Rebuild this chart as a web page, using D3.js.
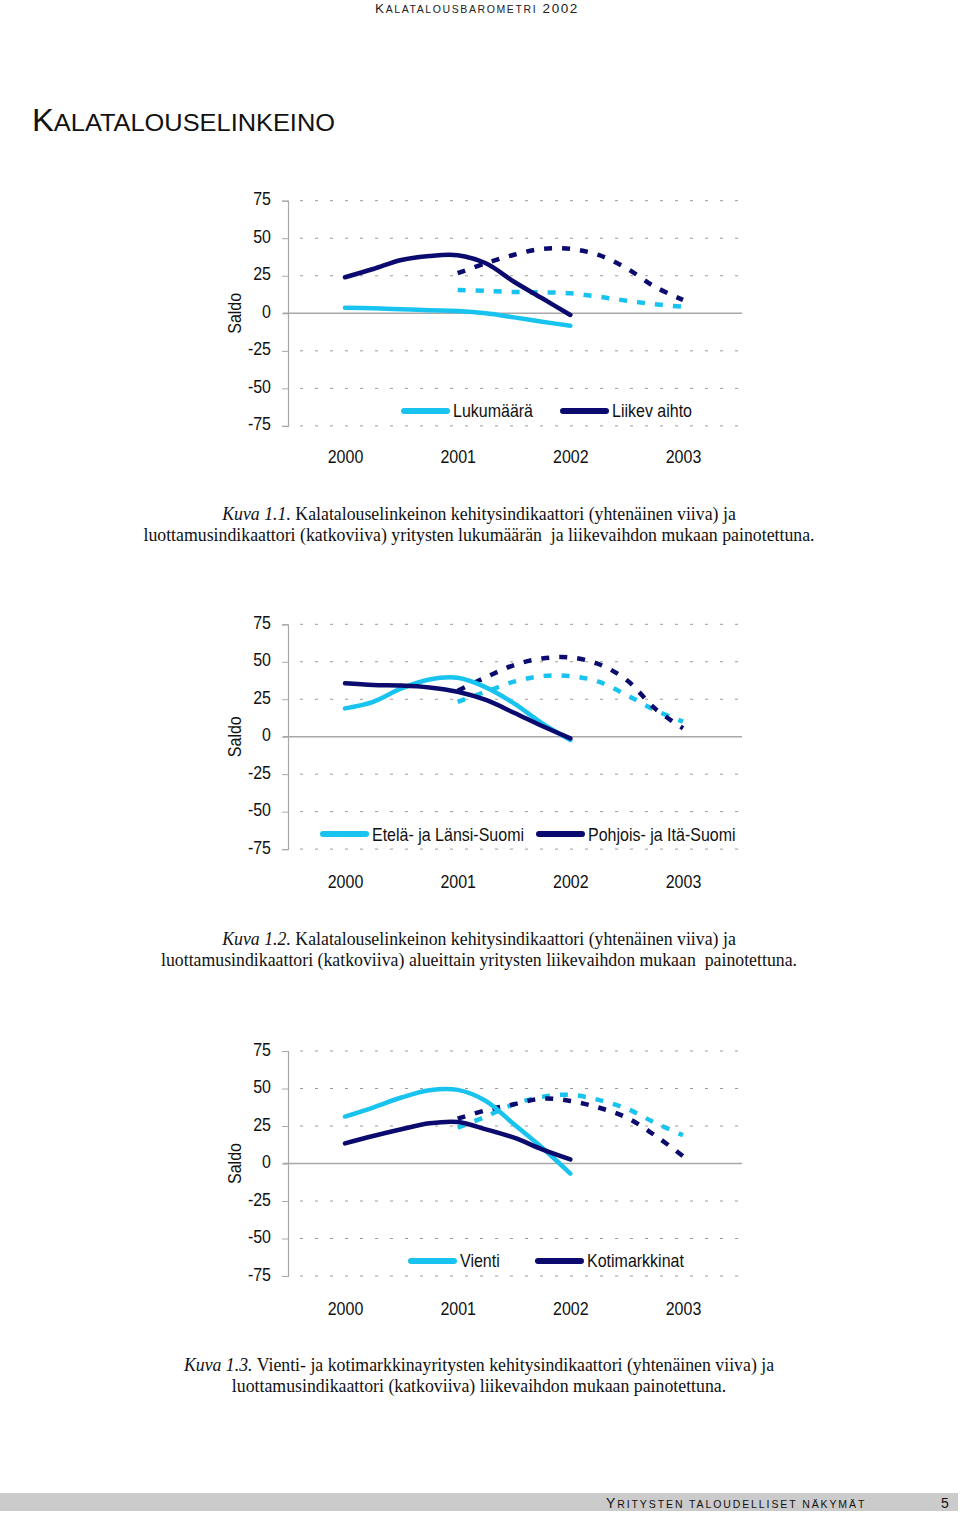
<!DOCTYPE html>
<html><head><meta charset="utf-8">
<script src="https://cdn.jsdelivr.net/npm/d3@7/dist/d3.min.js"></script>
<style>
html,body{margin:0;padding:0;background:#fff;}
svg{display:block;}
</style></head>
<body>
<svg id="page" width="960" height="1514"></svg>
<script>
// ---------- DATA ----------
const yearLabels = ["2000", "2001", "2002", "2003"];
const yTicks = [75, 50, 25, 0, -25, -50, -75];
const solidTimes = [2000, 2000.25, 2000.5, 2000.75, 2001, 2001.25, 2001.5, 2001.75, 2002];
const dashedTimes = [2001, 2001.25, 2001.5, 2001.75, 2002, 2002.25, 2002.5, 2002.75, 2003];

// Chart 1
const c1Names = ["Lukumäärä", "Liikev aihto"];
const c1LightSolid = [3.7, 3.3, 2.7, 2.0, 1.5, 0.0, -2.7, -5.6, -8.3];
const c1DarkSolid = [24, 29.5, 35.5, 38.2, 38.7, 33.3, 21, 10, -1.1];
const c1LightDashed = [15.5, 14.9, 14.2, 14.0, 13.3, 11.1, 8.4, 6.0, 4.4];
const c1DarkDashed = [26.7, 33.3, 39, 42.9, 42.9, 38.9, 30, 17.7, 8.9];

// Chart 2
const c2Names = ["Etelä- ja Länsi-Suomi", "Pohjois- ja Itä-Suomi"];
const c2LightSolid = [18.9, 23.3, 32.2, 38.2, 39.3, 32.9, 22.2, 8.9, -2.2];
const c2DarkSolid = [35.6, 34.5, 34.2, 32.9, 30, 24.5, 16, 7.1, -1.1];
const c2LightDashed = [23.3, 30, 36.7, 40.5, 40.5, 36.7, 27.8, 17.8, 10];
const c2DarkDashed = [30.7, 39.6, 47.8, 52.2, 52.9, 48.5, 37.8, 18.9, 5.6];

// Chart 3
const c3Names = ["Vienti", "Kotimarkkinat"];
const c3LightSolid = [31.3, 37.3, 44, 48.9, 49.1, 41.7, 26.1, 10.5, -6.7];
const c3DarkSolid = [13.4, 18.3, 22.8, 26.8, 27.7, 22.8, 17.2, 9.4, 2.7];
const c3LightDashed = [23.9, 31.3, 39.5, 44.4, 45.8, 42.4, 36.6, 27.2, 18.8];
const c3DarkDashed = [29.9, 35.5, 39.5, 43.3, 41.7, 37.3, 30.6, 18.8, 4.9];

const captions = [
  ["Kuva 1.1.", " Kalatalouselinkeinon kehitysindikaattori (yhtenäinen viiva) ja",
   "luottamusindikaattori (katkoviiva) yritysten lukumäärän  ja liikevaihdon mukaan painotettuna."],
  ["Kuva 1.2.", " Kalatalouselinkeinon kehitysindikaattori (yhtenäinen viiva) ja",
   "luottamusindikaattori (katkoviiva) alueittain yritysten liikevaihdon mukaan  painotettuna."],
  ["Kuva 1.3.", " Vienti- ja kotimarkkinayritysten kehitysindikaattori (yhtenäinen viiva) ja",
   "luottamusindikaattori (katkoviiva) liikevaihdon mukaan painotettuna."]
];

// ---------- STYLE ----------
const LIGHT = "#18c4ef";
const DARK = "#0b0b6f";
const SANS = "'Liberation Sans', Arial, sans-serif";
const SERIF = "'Liberation Serif', 'Times New Roman', serif";
const FS = 16;
const STRETCH = "scale(1,1.15)";

const svg = d3.select("#page");

// Header
const hdr = svg.append("text").attr("x", 477).attr("y", 13).attr("text-anchor", "middle")
  .attr("font-family", SANS).attr("fill", "#222").attr("letter-spacing", 1.6);
hdr.append("tspan").attr("font-size", 13.5).text("K");
hdr.append("tspan").attr("font-size", 10.5).text("ALATALOUSBAROMETRI");
hdr.append("tspan").attr("font-size", 13.5).text(" 2002");

// Title
const ttl = svg.append("text").attr("x", 32).attr("y", 131)
  .attr("font-family", SANS).attr("fill", "#111")
  .attr("textLength", 303).attr("lengthAdjust", "spacingAndGlyphs");
ttl.append("tspan").attr("font-size", 31).text("K");
ttl.append("tspan").attr("font-size", 24).text("ALATALOUSELINKEINO");

// Footer
svg.append("rect").attr("x", 0).attr("y", 1493).attr("width", 958).attr("height", 18).attr("fill", "#cbcbcb");
const ft = svg.append("text").attr("x", 606).attr("y", 1508)
  .attr("font-family", SANS).attr("fill", "#111").attr("letter-spacing", 1.9);
ft.append("tspan").attr("font-size", 14).text("Y");
ft.append("tspan").attr("font-size", 10.5).text("RITYSTEN TALOUDELLISET NÄKYMÄT");
svg.append("text").attr("x", 945).attr("y", 1508).attr("text-anchor", "middle")
  .attr("font-family", SANS).attr("font-size", 14).attr("fill", "#111").text("5");

function drawChart(opt) {
  const {top, bottom, names, ls, ds, ld, dd, xLabelY, capY, cap} = opt;
  const y = d3.scaleLinear().domain([-75, 75]).range([bottom, top]);
  const x = d3.scaleLinear().domain([2000, 2003]).range([345, 683]);
  const g = svg.append("g");

  // gridlines (dotted)
  yTicks.filter(t => t !== 0).forEach(t => {
    g.append("line").attr("x1", 300).attr("x2", 742)
      .attr("y1", y(t)).attr("y2", y(t))
      .attr("stroke", "#9a9a9a").attr("stroke-width", 1)
      .attr("stroke-dasharray", "3,12");
  });
  // zero line
  g.append("line").attr("x1", 283).attr("x2", 742).attr("y1", y(0)).attr("y2", y(0))
    .attr("stroke", "#a8a8a8").attr("stroke-width", 1.5);

  // y axis
  const ya = g.append("g").attr("transform", "translate(288,0)")
    .call(d3.axisLeft(y).tickValues(yTicks).tickSize(6).tickPadding(11).tickFormat(d => String(d)));
  ya.select(".domain").attr("stroke", "#a8a8a8").attr("stroke-width", 1.2);
  ya.selectAll(".tick line").attr("stroke", "#a8a8a8");
  ya.selectAll(".tick text").attr("font-family", SANS).attr("font-size", FS)
    .attr("fill", "#111").attr("dy", "0.22em").attr("transform", STRETCH);

  // x axis labels
  const xa = g.append("g").attr("transform", `translate(0,${xLabelY})`)
    .call(d3.axisBottom(x).tickValues([2000, 2001, 2002, 2003]).tickSize(0).tickPadding(0)
      .tickFormat((d, i) => yearLabels[i]));
  xa.select(".domain").remove();
  xa.selectAll(".tick text").attr("font-family", SANS).attr("font-size", FS)
    .attr("fill", "#111").attr("dy", "0.35em").attr("transform", STRETCH);

  // Saldo
  g.append("text").attr("transform", `translate(241,${y(0)}) rotate(-90) ${STRETCH}`)
    .attr("text-anchor", "middle").attr("font-family", SANS).attr("font-size", FS)
    .attr("fill", "#111").text("Saldo");

  const line = d3.line().curve(d3.curveCatmullRom.alpha(0.5));
  const pts = (times, vals) => times.map((t, i) => [x(t), y(vals[i])]);

  g.append("path").attr("d", line(pts(dashedTimes, ld))).attr("fill", "none")
    .attr("stroke", LIGHT).attr("stroke-width", 4.5).attr("stroke-dasharray", "8,10");
  g.append("path").attr("d", line(pts(dashedTimes, dd))).attr("fill", "none")
    .attr("stroke", DARK).attr("stroke-width", 4.5).attr("stroke-dasharray", "8,10");
  g.append("path").attr("d", line(pts(solidTimes, ls))).attr("fill", "none")
    .attr("stroke", LIGHT).attr("stroke-width", 4.5).attr("stroke-linecap", "round");
  g.append("path").attr("d", line(pts(solidTimes, ds))).attr("fill", "none")
    .attr("stroke", DARK).attr("stroke-width", 4.5).attr("stroke-linecap", "round");

  // legend
  const ly = y(-65);
  const leg = opt.legend;
  [[leg[0], LIGHT, names[0]], [leg[1], DARK, names[1]]].forEach(([lx, col, nm]) => {
    g.append("line").attr("x1", lx).attr("x2", lx + 43).attr("y1", ly).attr("y2", ly)
      .attr("stroke", col).attr("stroke-width", 6).attr("stroke-linecap", "round");
    g.append("text").attr("transform", `translate(${lx + 49},${ly}) ${STRETCH}`).attr("dy", "0.35em")
      .attr("font-family", SANS).attr("font-size", FS).attr("fill", "#111").text(nm);
  });

  // caption
  const c1 = svg.append("text").attr("x", 479).attr("y", capY).attr("text-anchor", "middle")
    .attr("font-family", SERIF).attr("font-size", 17.8).attr("fill", "#111");
  c1.append("tspan").attr("font-style", "italic").text(cap[0]);
  c1.append("tspan").text(cap[1]);
  svg.append("text").attr("x", 479).attr("y", capY + 21).attr("text-anchor", "middle")
    .attr("font-family", SERIF).attr("font-size", 17.8).attr("fill", "#111").style("white-space", "pre")
    .text(cap[2]);
}

drawChart({top: 200.7, bottom: 425.9, names: c1Names, ls: c1LightSolid, ds: c1DarkSolid,
  ld: c1LightDashed, dd: c1DarkDashed, xLabelY: 457, capY: 520, cap: captions[0], legend: [404, 563]});
drawChart({top: 624.3, bottom: 849.1, names: c2Names, ls: c2LightSolid, ds: c2DarkSolid,
  ld: c2LightDashed, dd: c2DarkDashed, xLabelY: 882, capY: 945, cap: captions[1], legend: [323, 539]});
drawChart({top: 1051, bottom: 1276, names: c3Names, ls: c3LightSolid, ds: c3DarkSolid,
  ld: c3LightDashed, dd: c3DarkDashed, xLabelY: 1309, capY: 1371, cap: captions[2], legend: [411, 538]});
</script>
</body></html>
